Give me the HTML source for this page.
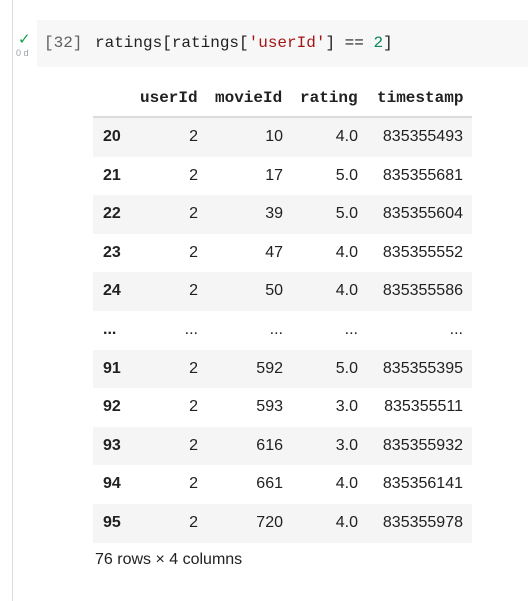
<!DOCTYPE html>
<html><head><meta charset="utf-8"><style>
body{margin:0;width:528px;height:601px;background:#fff;position:relative;overflow:hidden;font-family:"Liberation Sans",Arial,sans-serif;}
.abs{position:absolute}
.vline{left:12px;top:0;width:1px;height:601px;background:#dadce0}
.code{left:37px;top:20px;width:491px;height:47px;background:#f7f7f7}
.mono{font-family:"Liberation Mono","DejaVu Sans Mono",monospace}
.row{position:absolute;left:93px;width:379px;height:38.6px}
.row.g{background:#f5f5f5}
.c{position:absolute;font-size:16px;color:#212121;line-height:38.6px;text-align:right}
.idx{left:10px;font-weight:bold;text-align:left}
.c1{right:274px}.c2{right:189px}.c3{right:114px}.c4{right:9px}
.h{position:absolute;top:89px;font-weight:bold;font-size:16px;color:#212121}
</style></head><body>
<div class="abs vline"></div>
<div class="abs" style="left:18px;top:30px;color:#16a34a;font-size:15px">✓</div>
<div class="abs" style="left:16px;top:48px;color:#9aa0a6;font-size:9px">0 d</div>
<div class="abs code"></div>
<div class="abs mono" style="left:44px;top:34px;font-size:16px;color:#616161">[32]</div>
<div class="abs mono" style="left:95px;top:34px;font-size:16px;color:#212121;white-space:pre">ratings[ratings[<span style="color:#a31515">'userId'</span>] == <span style="color:#098658">2</span>]</div>
<div>
<div class="h mono" style="left:140px">userId</div>
<div class="h mono" style="left:215px">movieId</div>
<div class="h mono" style="left:300px">rating</div>
<div class="h mono" style="left:377px">timestamp</div>
<div class="abs" style="left:93px;top:116px;width:379px;height:2px;background:#dcdcdc"></div>
<div id="rows"></div>
</div>
<div class="abs" style="left:95px;top:551px;font-size:16px;color:#212121">76 rows × 4 columns</div>
<script>
const idx=['20','21','22','23','24','...','91','92','93','94','95'];
const uid=['2','2','2','2','2','...','2','2','2','2','2'];
const mid=['10','17','39','47','50','...','592','593','616','661','720'];
const rat=['4.0','5.0','5.0','4.0','4.0','...','5.0','3.0','3.0','4.0','4.0'];
const ts=['835355493','835355681','835355604','835355552','835355586','...','835355395','835355511','835355932','835356141','835355978'];
const R=document.getElementById('rows');
idx.forEach((v,i)=>{
 const r=document.createElement('div');
 r.className='row'+(i%2===0?' g':'');
 
 
 r.style.top=(118+i*38.6)+'px';
 const cells=[['idx',v],['c1',uid[i]],['c2',mid[i]],['c3',rat[i]],['c4',ts[i]]];
 cells.forEach(([cl,t])=>{const d=document.createElement('div');d.className='c '+cl;d.textContent=t;
  
  
  r.appendChild(d);});
 R.appendChild(r);
});
</script>
</body></html>
